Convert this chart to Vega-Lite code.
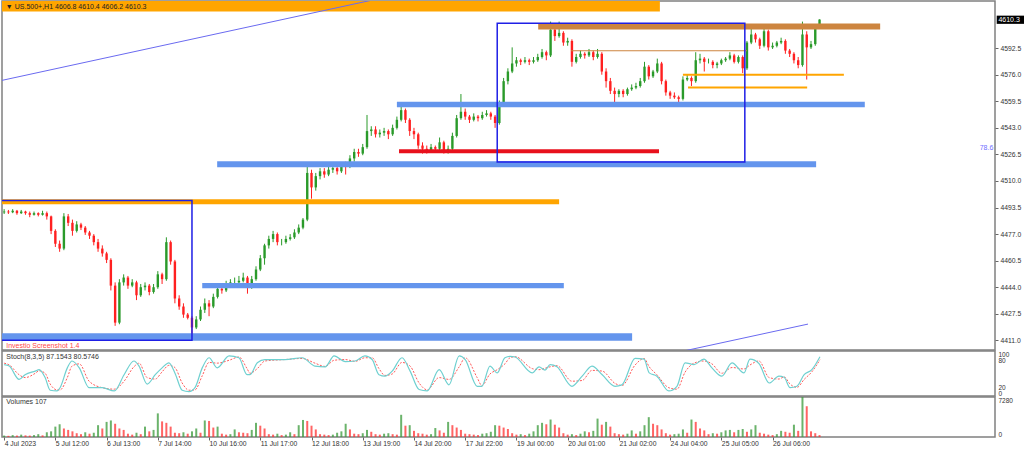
{
  "$schema": "https://vega.github.io/schema/vega-lite/v6.json",
  "padding": 0,
  "spacing": 1,
  "bounds": "flush",
  "background": "white",
  "config": {
    "font": "Liberation Sans",
    "view": {"stroke": "#808080", "strokeWidth": 1.5},
    "scale": {"continuousPadding": 0},
    "axis": {"labelFont": "Liberation Sans", "labelFontSize": 6.8, "labelColor": "#333", "tickColor": "#666", "grid": false, "domain": false, "title": null, "labelOverlap": false, "labelFlush": false}
  },
  "datasets": {
    "candles": [
      {"i":0,"o":4490.5,"h":4492.5,"l":4489.5,"c":4491,"v":260},
      {"i":1,"o":4491,"h":4492,"l":4489.5,"c":4490.5,"v":215},
      {"i":2,"o":4490.5,"h":4492.5,"l":4490,"c":4491.5,"v":345},
      {"i":3,"o":4491.5,"h":4492,"l":4489,"c":4490,"v":260},
      {"i":4,"o":4490,"h":4492,"l":4489.5,"c":4491,"v":430},
      {"i":5,"o":4491,"h":4491.5,"l":4489,"c":4490,"v":300},
      {"i":6,"o":4490,"h":4491,"l":4487.5,"c":4489,"v":260},
      {"i":7,"o":4489,"h":4491,"l":4488.5,"c":4490,"v":345},
      {"i":8,"o":4490,"h":4490.5,"l":4488,"c":4489,"v":515},
      {"i":9,"o":4489,"h":4491.5,"l":4488.5,"c":4490,"v":300},
      {"i":10,"o":4490,"h":4491,"l":4486,"c":4488,"v":860},
      {"i":11,"o":4488,"h":4488.5,"l":4477,"c":4479,"v":1030},
      {"i":12,"o":4479,"h":4480,"l":4469,"c":4471,"v":1890},
      {"i":13,"o":4471,"h":4473,"l":4466,"c":4468,"v":2320},
      {"i":14,"o":4468,"h":4490,"l":4467,"c":4488,"v":1550},
      {"i":15,"o":4488,"h":4489.5,"l":4482,"c":4484,"v":1290},
      {"i":16,"o":4484,"h":4486,"l":4476,"c":4479,"v":1030},
      {"i":17,"o":4479,"h":4485,"l":4478,"c":4483,"v":690},
      {"i":18,"o":4483,"h":4484,"l":4479.5,"c":4481,"v":515},
      {"i":19,"o":4481,"h":4482,"l":4476.5,"c":4478,"v":860},
      {"i":20,"o":4478,"h":4479,"l":4474,"c":4476,"v":600},
      {"i":21,"o":4476,"h":4477,"l":4470,"c":4472,"v":775},
      {"i":22,"o":4472,"h":4474,"l":4466,"c":4468,"v":2150},
      {"i":23,"o":4468,"h":4470,"l":4463,"c":4465,"v":1550},
      {"i":24,"o":4465,"h":4466,"l":4459,"c":4461,"v":2750},
      {"i":25,"o":4461,"h":4462,"l":4442,"c":4445,"v":3010},
      {"i":26,"o":4445,"h":4447,"l":4420,"c":4422,"v":2410},
      {"i":27,"o":4422,"h":4449,"l":4421,"c":4447,"v":1550},
      {"i":28,"o":4447,"h":4452,"l":4445,"c":4450,"v":1290},
      {"i":29,"o":4450,"h":4451,"l":4443,"c":4445,"v":600},
      {"i":30,"o":4445,"h":4449,"l":4444,"c":4447,"v":430},
      {"i":31,"o":4447,"h":4448,"l":4436,"c":4439,"v":775},
      {"i":32,"o":4439,"h":4446,"l":4438,"c":4444,"v":515},
      {"i":33,"o":4444,"h":4447,"l":4442,"c":4445,"v":1890},
      {"i":34,"o":4445,"h":4446,"l":4439,"c":4441,"v":1030},
      {"i":35,"o":4441,"h":4446,"l":4440,"c":4444,"v":1290},
      {"i":36,"o":4444,"h":4454,"l":4443,"c":4452,"v":4300},
      {"i":37,"o":4452,"h":4453,"l":4446,"c":4449,"v":2840},
      {"i":38,"o":4449,"h":4475,"l":4448,"c":4472,"v":2580},
      {"i":39,"o":4472,"h":4473,"l":4458,"c":4460,"v":1890},
      {"i":40,"o":4460,"h":4461,"l":4434,"c":4437,"v":775},
      {"i":41,"o":4437,"h":4439,"l":4430,"c":4432,"v":690},
      {"i":42,"o":4432,"h":4434,"l":4425,"c":4427,"v":860},
      {"i":43,"o":4427,"h":4428,"l":4424,"c":4425,"v":600},
      {"i":44,"o":4425,"h":4426,"l":4414,"c":4419,"v":1030},
      {"i":45,"o":4419,"h":4426,"l":4418,"c":4424,"v":1550},
      {"i":46,"o":4424,"h":4432,"l":4423,"c":4430,"v":775},
      {"i":47,"o":4430,"h":4437,"l":4428,"c":4434,"v":3010},
      {"i":48,"o":4434,"h":4436,"l":4426,"c":4432,"v":2920},
      {"i":49,"o":4432,"h":4440,"l":4431,"c":4438,"v":1720},
      {"i":50,"o":4438,"h":4445,"l":4437,"c":4443,"v":1890},
      {"i":51,"o":4443,"h":4445,"l":4440,"c":4442,"v":600},
      {"i":52,"o":4442,"h":4448,"l":4441,"c":4446,"v":430},
      {"i":53,"o":4446,"h":4449,"l":4444,"c":4447,"v":515},
      {"i":54,"o":4447,"h":4450,"l":4445,"c":4447,"v":1380},
      {"i":55,"o":4447,"h":4451,"l":4446,"c":4448,"v":860},
      {"i":56,"o":4448,"h":4453,"l":4447,"c":4450,"v":775},
      {"i":57,"o":4450,"h":4451,"l":4440,"c":4444,"v":690},
      {"i":58,"o":4444,"h":4451,"l":4443,"c":4449,"v":1290},
      {"i":59,"o":4449,"h":4457,"l":4448,"c":4455,"v":2580},
      {"i":60,"o":4455,"h":4464,"l":4454,"c":4462,"v":2060},
      {"i":61,"o":4462,"h":4471,"l":4458,"c":4470,"v":1550},
      {"i":62,"o":4470,"h":4476,"l":4468,"c":4474,"v":515},
      {"i":63,"o":4474,"h":4479,"l":4472,"c":4477,"v":430},
      {"i":64,"o":4477,"h":4478,"l":4470,"c":4472,"v":600},
      {"i":65,"o":4472,"h":4474,"l":4470,"c":4472,"v":345},
      {"i":66,"o":4472,"h":4476,"l":4471,"c":4474,"v":430},
      {"i":67,"o":4474,"h":4477,"l":4473,"c":4475,"v":860},
      {"i":68,"o":4475,"h":4480,"l":4474,"c":4478,"v":515},
      {"i":69,"o":4478,"h":4483,"l":4477,"c":4481,"v":2150},
      {"i":70,"o":4481,"h":4487,"l":4480,"c":4486,"v":3100},
      {"i":71,"o":4486,"h":4520,"l":4485,"c":4515,"v":2920},
      {"i":72,"o":4515,"h":4517,"l":4499,"c":4506,"v":2060},
      {"i":73,"o":4506,"h":4515,"l":4504,"c":4513,"v":1380},
      {"i":74,"o":4513,"h":4518,"l":4511,"c":4516,"v":515},
      {"i":75,"o":4516,"h":4518,"l":4512,"c":4514,"v":430},
      {"i":76,"o":4514,"h":4519,"l":4513,"c":4517,"v":345},
      {"i":77,"o":4517,"h":4520,"l":4515,"c":4518,"v":430},
      {"i":78,"o":4518,"h":4519,"l":4514,"c":4516,"v":775},
      {"i":79,"o":4516,"h":4521,"l":4515,"c":4520,"v":1030},
      {"i":80,"o":4520,"h":4522,"l":4514,"c":4519,"v":2410},
      {"i":81,"o":4519,"h":4526,"l":4518,"c":4524,"v":1380},
      {"i":82,"o":4524,"h":4530,"l":4522,"c":4528,"v":600},
      {"i":83,"o":4528,"h":4530,"l":4525,"c":4527,"v":515},
      {"i":84,"o":4527,"h":4533,"l":4526,"c":4531,"v":690},
      {"i":85,"o":4531,"h":4551,"l":4530,"c":4541,"v":1290},
      {"i":86,"o":4541,"h":4544,"l":4538,"c":4542,"v":950},
      {"i":87,"o":4542,"h":4544,"l":4537,"c":4539,"v":515},
      {"i":88,"o":4539,"h":4542,"l":4537,"c":4540,"v":430},
      {"i":89,"o":4540,"h":4543,"l":4538,"c":4541,"v":600},
      {"i":90,"o":4541,"h":4542,"l":4536,"c":4539,"v":690},
      {"i":91,"o":4539,"h":4545,"l":4538,"c":4543,"v":515},
      {"i":92,"o":4543,"h":4550,"l":4542,"c":4548,"v":430},
      {"i":93,"o":4548,"h":4557,"l":4547,"c":4554,"v":4040},
      {"i":94,"o":4554,"h":4555,"l":4546,"c":4548,"v":2060},
      {"i":95,"o":4548,"h":4549,"l":4538,"c":4541,"v":2150},
      {"i":96,"o":4541,"h":4543,"l":4536,"c":4539,"v":1120},
      {"i":97,"o":4539,"h":4540,"l":4530,"c":4532,"v":690},
      {"i":98,"o":4532,"h":4534,"l":4527,"c":4530,"v":600},
      {"i":99,"o":4530,"h":4532,"l":4527,"c":4529,"v":430},
      {"i":100,"o":4529,"h":4533,"l":4528,"c":4531,"v":515},
      {"i":101,"o":4531,"h":4532,"l":4528,"c":4530,"v":1630},
      {"i":102,"o":4530,"h":4537,"l":4529,"c":4534,"v":1200},
      {"i":103,"o":4534,"h":4535,"l":4527,"c":4529,"v":775},
      {"i":104,"o":4529,"h":4532,"l":4527,"c":4530,"v":2750},
      {"i":105,"o":4530,"h":4540,"l":4529,"c":4538,"v":2150},
      {"i":106,"o":4538,"h":4551,"l":4537,"c":4549,"v":1720},
      {"i":107,"o":4549,"h":4564,"l":4548,"c":4553,"v":1290},
      {"i":108,"o":4553,"h":4555,"l":4548,"c":4550,"v":600},
      {"i":109,"o":4550,"h":4551,"l":4546,"c":4548,"v":515},
      {"i":110,"o":4548,"h":4552,"l":4547,"c":4550,"v":430},
      {"i":111,"o":4550,"h":4551,"l":4547,"c":4549,"v":345},
      {"i":112,"o":4549,"h":4553,"l":4548,"c":4551,"v":600},
      {"i":113,"o":4551,"h":4554,"l":4550,"c":4552,"v":690},
      {"i":114,"o":4552,"h":4553,"l":4548,"c":4550,"v":950},
      {"i":115,"o":4550,"h":4551,"l":4543,"c":4546,"v":2150},
      {"i":116,"o":4546,"h":4560,"l":4545,"c":4558,"v":2060},
      {"i":117,"o":4558,"h":4574,"l":4557,"c":4572,"v":1720},
      {"i":118,"o":4572,"h":4580,"l":4570,"c":4578,"v":1460},
      {"i":119,"o":4578,"h":4593,"l":4577,"c":4583,"v":690},
      {"i":120,"o":4583,"h":4587,"l":4581,"c":4585,"v":430},
      {"i":121,"o":4585,"h":4586,"l":4582,"c":4584,"v":515},
      {"i":122,"o":4584,"h":4587,"l":4583,"c":4585,"v":345},
      {"i":123,"o":4585,"h":4586,"l":4582,"c":4584,"v":600},
      {"i":124,"o":4584,"h":4587,"l":4583,"c":4585,"v":1030},
      {"i":125,"o":4585,"h":4589,"l":4584,"c":4587,"v":2150},
      {"i":126,"o":4587,"h":4592,"l":4586,"c":4590,"v":2580},
      {"i":127,"o":4590,"h":4591,"l":4585,"c":4588,"v":2320},
      {"i":128,"o":4588,"h":4609,"l":4587,"c":4604,"v":3180},
      {"i":129,"o":4604,"h":4606,"l":4597,"c":4600,"v":2240},
      {"i":130,"o":4600,"h":4609,"l":4599,"c":4602,"v":1720},
      {"i":131,"o":4602,"h":4603,"l":4594,"c":4596,"v":690},
      {"i":132,"o":4596,"h":4599,"l":4594,"c":4597,"v":430},
      {"i":133,"o":4597,"h":4598,"l":4581,"c":4584,"v":515},
      {"i":134,"o":4584,"h":4589,"l":4583,"c":4587,"v":345},
      {"i":135,"o":4587,"h":4591,"l":4586,"c":4589,"v":600},
      {"i":136,"o":4589,"h":4590,"l":4586,"c":4588,"v":1030},
      {"i":137,"o":4588,"h":4592,"l":4587,"c":4590,"v":860},
      {"i":138,"o":4590,"h":4591,"l":4585,"c":4587,"v":1120},
      {"i":139,"o":4587,"h":4592,"l":4586,"c":4589,"v":3350},
      {"i":140,"o":4589,"h":4590,"l":4576,"c":4578,"v":2240},
      {"i":141,"o":4578,"h":4580,"l":4568,"c":4572,"v":2750},
      {"i":142,"o":4572,"h":4574,"l":4564,"c":4566,"v":1890},
      {"i":143,"o":4566,"h":4568,"l":4556,"c":4564,"v":690},
      {"i":144,"o":4564,"h":4567,"l":4562,"c":4566,"v":515},
      {"i":145,"o":4566,"h":4567,"l":4562,"c":4564,"v":430},
      {"i":146,"o":4564,"h":4568,"l":4563,"c":4567,"v":600},
      {"i":147,"o":4567,"h":4570,"l":4566,"c":4568,"v":1200},
      {"i":148,"o":4568,"h":4571,"l":4567,"c":4569,"v":600},
      {"i":149,"o":4569,"h":4574,"l":4568,"c":4572,"v":1030},
      {"i":150,"o":4572,"h":4584,"l":4571,"c":4581,"v":2150},
      {"i":151,"o":4581,"h":4582,"l":4573,"c":4575,"v":3610},
      {"i":152,"o":4575,"h":4579,"l":4574,"c":4578,"v":2410},
      {"i":153,"o":4578,"h":4586,"l":4577,"c":4583,"v":2150},
      {"i":154,"o":4583,"h":4584,"l":4570,"c":4572,"v":1380},
      {"i":155,"o":4572,"h":4573,"l":4563,"c":4565,"v":690},
      {"i":156,"o":4565,"h":4566,"l":4561,"c":4563,"v":430},
      {"i":157,"o":4563,"h":4565,"l":4561,"c":4562,"v":515},
      {"i":158,"o":4562,"h":4563,"l":4559,"c":4561,"v":600},
      {"i":159,"o":4561,"h":4575,"l":4560,"c":4573,"v":1380},
      {"i":160,"o":4573,"h":4576,"l":4572,"c":4574,"v":775},
      {"i":161,"o":4574,"h":4575,"l":4569,"c":4572,"v":3180},
      {"i":162,"o":4572,"h":4590,"l":4571,"c":4585,"v":2750},
      {"i":163,"o":4585,"h":4589,"l":4583,"c":4586,"v":1550},
      {"i":164,"o":4586,"h":4587,"l":4578,"c":4584,"v":1200},
      {"i":165,"o":4584,"h":4586,"l":4583,"c":4584,"v":515},
      {"i":166,"o":4584,"h":4585,"l":4580,"c":4582,"v":690},
      {"i":167,"o":4582,"h":4584,"l":4580,"c":4583,"v":600},
      {"i":168,"o":4583,"h":4586,"l":4582,"c":4585,"v":860},
      {"i":169,"o":4585,"h":4587,"l":4584,"c":4586,"v":1200},
      {"i":170,"o":4586,"h":4590,"l":4585,"c":4588,"v":1290},
      {"i":171,"o":4588,"h":4589,"l":4583,"c":4584,"v":860},
      {"i":172,"o":4584,"h":4588,"l":4583,"c":4587,"v":1290},
      {"i":173,"o":4587,"h":4588,"l":4577,"c":4580,"v":1460},
      {"i":174,"o":4580,"h":4597,"l":4579,"c":4596,"v":950},
      {"i":175,"o":4596,"h":4607,"l":4595,"c":4601,"v":1380},
      {"i":176,"o":4601,"h":4602,"l":4596,"c":4598,"v":2150},
      {"i":177,"o":4598,"h":4599,"l":4592,"c":4594,"v":775},
      {"i":178,"o":4594,"h":4606,"l":4593,"c":4603,"v":600},
      {"i":179,"o":4603,"h":4604,"l":4591,"c":4593,"v":430},
      {"i":180,"o":4593,"h":4596,"l":4592,"c":4594,"v":345},
      {"i":181,"o":4594,"h":4597,"l":4593,"c":4596,"v":515},
      {"i":182,"o":4596,"h":4599,"l":4595,"c":4597,"v":1120},
      {"i":183,"o":4597,"h":4598,"l":4589,"c":4591,"v":950},
      {"i":184,"o":4591,"h":4592,"l":4587,"c":4589,"v":775},
      {"i":185,"o":4589,"h":4590,"l":4583,"c":4585,"v":2240},
      {"i":186,"o":4585,"h":4587,"l":4580,"c":4582,"v":1120},
      {"i":187,"o":4582,"h":4609,"l":4581,"c":4601,"v":7280},
      {"i":188,"o":4601,"h":4603,"l":4573,"c":4593,"v":5600},
      {"i":189,"o":4593,"h":4597,"l":4592,"c":4595,"v":1030},
      {"i":190,"o":4595,"h":4607.5,"l":4594,"c":4606.8,"v":690},
      {"i":191,"o":4606.8,"h":4610.4,"l":4606.2,"c":4610.3,"v":345}
    ],
    "stoch": [
      {"i":0,"k":69.8,"d":73.0},{"i":1.2,"k":66.5,"d":68.9},{"i":3.5,"k":36.9,"d":47.3},{"i":4.9,"k":47.3,"d":40.9},
      {"i":7.3,"k":55.3,"d":50.5},{"i":8.2,"k":58.5,"d":56.1},{"i":9.6,"k":40.9,"d":50.5},{"i":10.8,"k":12.8,"d":26.4},
      {"i":12.4,"k":11.2,"d":13.6},{"i":13.1,"k":18.4,"d":13.6},{"i":14.8,"k":62.5,"d":40.9},{"i":15.9,"k":77.8,"d":66.5},
      {"i":17.6,"k":62.5,"d":71.4},{"i":19.9,"k":18.4,"d":32.9},{"i":23,"k":18.4,"d":18.4},{"i":25.8,"k":11.2,"d":15.2},
      {"i":28.1,"k":47.3,"d":32.9},{"i":30.4,"k":77.8,"d":64.9},{"i":31.6,"k":66.5,"d":73.0},{"i":33.5,"k":26.4,"d":40.9},
      {"i":35.4,"k":47.3,"d":37.7},{"i":37,"k":62.5,"d":53.7},{"i":38.6,"k":73.8,"d":68.1},{"i":40,"k":51.3,"d":63.3},
      {"i":41.7,"k":12.8,"d":28.9},{"i":43.3,"k":9.6,"d":12.8},{"i":44.7,"k":18.4,"d":13.6},{"i":46.4,"k":62.5,"d":44.9},
      {"i":48,"k":85.0,"d":74.6},{"i":49.9,"k":62.5,"d":73.0},{"i":52.7,"k":89.0,"d":79.4},{"i":55,"k":85.0,"d":86.6},
      {"i":56.9,"k":47.3,"d":60.9},{"i":57.6,"k":47.3,"d":50.5},{"i":59.3,"k":73.8,"d":60.9},{"i":61.1,"k":81.0,"d":77.8},
      {"i":65.8,"k":81.0,"d":81.0},{"i":69.8,"k":85.0,"d":83.4},{"i":72.8,"k":66.5,"d":73.0},{"i":75.2,"k":64.9,"d":65.7},
      {"i":77.3,"k":89.0,"d":79.4},{"i":79.9,"k":76.2,"d":81.0},{"i":82.2,"k":77.8,"d":77.0},{"i":84.5,"k":89.0,"d":85.0},
      {"i":86.2,"k":81.0,"d":85.0},{"i":87.8,"k":47.3,"d":60.9},{"i":89.2,"k":44.1,"d":45.7},{"i":90.9,"k":55.3,"d":48.9},
      {"i":93.2,"k":85.0,"d":74.6},{"i":95.1,"k":55.3,"d":66.5},{"i":97.2,"k":14.4,"d":28.9},{"i":99.1,"k":11.2,"d":13.6},
      {"i":101.9,"k":58.5,"d":40.9},{"i":104.2,"k":24.8,"d":36.9},{"i":106.6,"k":89.0,"d":64.9},{"i":108,"k":81.0,"d":85.0},
      {"i":110.8,"k":21.6,"d":40.9},{"i":111.9,"k":21.6,"d":23.2},{"i":113.8,"k":66.5,"d":48.9},{"i":115.5,"k":51.3,"d":58.5},
      {"i":117.3,"k":85.0,"d":71.4},{"i":118.5,"k":88.2,"d":85.0},{"i":119.7,"k":86.6,"d":87.4},{"i":123.7,"k":51.3,"d":60.9},
      {"i":125.3,"k":64.9,"d":58.5},{"i":126.7,"k":57.7,"d":61.7},{"i":127.9,"k":69.8,"d":64.9},{"i":129.5,"k":64.9,"d":67.3},
      {"i":133,"k":21.6,"d":32.9},{"i":135.4,"k":44.1,"d":34.5},{"i":137.7,"k":66.5,"d":56.9},{"i":140.1,"k":47.3,"d":55.3},
      {"i":143.1,"k":21.6,"d":28.0},{"i":144.7,"k":24.8,"d":23.2},{"i":147.8,"k":83.4,"d":68.9},{"i":149.9,"k":81.8,"d":83.4},
      {"i":151.1,"k":51.3,"d":64.9},{"i":152.9,"k":44.1,"d":47.3},{"i":155.7,"k":11.2,"d":18.4},{"i":157.6,"k":21.6,"d":15.2},
      {"i":159.5,"k":73.8,"d":52.9},{"i":161.6,"k":69.8,"d":73.0},{"i":163.9,"k":81.8,"d":77.8},{"i":165.8,"k":62.5,"d":71.4},
      {"i":168.1,"k":44.1,"d":50.5},{"i":170.5,"k":73.8,"d":63.3},{"i":173.3,"k":51.3,"d":60.1},{"i":174.7,"k":81.8,"d":68.9},
      {"i":176.8,"k":72.2,"d":77.8},{"i":179.2,"k":28.9,"d":40.9},{"i":181.5,"k":44.1,"d":37.7},{"i":182.7,"k":41.7,"d":42.5},
      {"i":184.1,"k":18.4,"d":26.4},{"i":185.7,"k":21.6,"d":19.2},{"i":187.4,"k":47.3,"d":36.9},{"i":189.2,"k":58.5,"d":53.7},
      {"i":191.1,"k":87.15,"d":80.57}
    ]
  },
  "vconcat": [
    {
      "width": 993,
      "height": 349,
      "resolve": {"axis": {"y": "independent"}},
      "encoding": {
        "x": {"field": "i", "type": "quantitative", "scale": {"domain": [-0.5, 232.1], "nice": false, "zero": false, "padding": 0}, "axis": null}
      },
      "layer": [
        {
          "data": {"name": "candles"},
          "mark": {"type": "rule", "strokeWidth": 1},
          "encoding": {
            "y": {"field": "l", "type": "quantitative", "scale": {"domain": [4405.0, 4621.8], "nice": false, "zero": false, "padding": 0},
              "axis": {"orient": "right", "values": [4411, 4427.5, 4444, 4460.5, 4477, 4493.5, 4510, 4526.5, 4543, 4559.5, 4576, 4592.5], "format": ".1f", "tickSize": 3, "labelPadding": 2, "labelOverlap": false}},
            "y2": {"field": "h"},
            "color": {"condition": {"test": "datum.c >= datum.o", "value": "#2a9a2a"}, "value": "#ff2020"}
          }
        },
        {
          "data": {"name": "candles"},
          "mark": {"type": "bar", "size": 2.4},
          "encoding": {
            "y": {"field": "o", "type": "quantitative", "axis": null},
            "y2": {"field": "c"},
            "color": {"condition": {"test": "datum.c >= datum.o", "value": "#2a9a2a"}, "value": "#ff2020"}
          }
        },
        {
          "data": {"values": [
            {"x1": -0.5, "x2": 153.6, "lo": 4615.3, "hi": 4622.5, "kind": "resistance"},
            {"x1": -0.5, "x2": 130.0, "lo": 4495.6, "hi": 4498.6, "kind": "resistance"},
            {"x1": 159.0, "x2": 196.7, "lo": 4575.4, "hi": 4576.6, "kind": "resistance"},
            {"x1": 160.2, "x2": 188.1, "lo": 4567.5, "hi": 4568.7, "kind": "resistance"},
            {"x1": 46.4, "x2": 131.1, "lo": 4443.4, "hi": 4446.6, "kind": "support"},
            {"x1": -0.5, "x2": 147.1, "lo": 4410.8, "hi": 4415.4, "kind": "support"},
            {"x1": 49.9, "x2": 190.2, "lo": 4518.6, "hi": 4522.2, "kind": "support"},
            {"x1": 92.0, "x2": 201.6, "lo": 4555.8, "hi": 4559.2, "kind": "support"},
            {"x1": 92.5, "x2": 153.4, "lo": 4527.2, "hi": 4529.7, "kind": "pivot"},
            {"x1": 125.1, "x2": 205.2, "lo": 4604.1, "hi": 4607.8, "kind": "supply"},
            {"x1": 132.8, "x2": 174.0, "lo": 4590.6, "hi": 4591.2, "kind": "supply"}
          ]},
          "mark": {"type": "rect", "clip": true},
          "encoding": {
            "x": {"field": "x1", "type": "quantitative"},
            "x2": {"field": "x2"},
            "y": {"field": "lo", "type": "quantitative", "axis": null},
            "y2": {"field": "hi"},
            "color": {"field": "kind", "type": "nominal", "legend": null,
              "scale": {"domain": ["support", "resistance", "pivot", "supply"], "range": ["#6495ED", "#FFA500", "#E8101C", "#CD853F"]}}
          }
        },
        {
          "data": {"values": [{"p": 4610.3}]},
          "mark": {"type": "rule", "color": "#c8c8c8", "strokeWidth": 1},
          "encoding": {"y": {"field": "p", "type": "quantitative", "axis": null}}
        },
        {
          "data": {"values": [{"p": 4527.8}]},
          "mark": {"type": "rule", "color": "#9a9aff", "strokeWidth": 1, "strokeDash": [2, 2]},
          "encoding": {"y": {"field": "p", "type": "quantitative", "axis": null}}
        },
        {
          "data": {"values": [
            {"x1": -1, "x2": 44.0, "lo": 4411.0, "hi": 4497.8},
            {"x1": 115.5, "x2": 173.5, "lo": 4521.8, "hi": 4608.0}
          ]},
          "mark": {"type": "rect", "fill": null, "fillOpacity": 0, "stroke": "#1f1fe6", "strokeWidth": 1.5, "clip": true},
          "encoding": {
            "x": {"field": "x1", "type": "quantitative"},
            "x2": {"field": "x2"},
            "y": {"field": "lo", "type": "quantitative", "axis": null},
            "y2": {"field": "hi"}
          }
        },
        {
          "data": {"values": [
            {"line": "upper", "i": -0.5, "p": 4572.5},
            {"line": "upper", "i": 100, "p": 4630.3},
            {"line": "lower", "i": 158.0, "p": 4403.7},
            {"line": "lower", "i": 188.3, "p": 4421.1}
          ]},
          "mark": {"type": "line", "color": "#6a6af0", "strokeWidth": 1, "clip": true},
          "encoding": {
            "y": {"field": "p", "type": "quantitative", "axis": null},
            "detail": {"field": "line", "type": "nominal"}
          }
        },
        {
          "data": {"values": [{"i": 0.4, "p": 4617.9, "t": "▼ US.500+,H1  4606.8 4610.4 4606.2 4610.3"}]},
          "mark": {"type": "text", "align": "left", "baseline": "middle", "fontSize": 7, "color": "#222"},
          "encoding": {"y": {"field": "p", "type": "quantitative", "axis": null}, "text": {"field": "t"}}
        },
        {
          "data": {"values": [{"i": 0.5, "p": 4407.6, "t": "Investio Screenshot 1.4"}]},
          "mark": {"type": "text", "align": "left", "baseline": "middle", "fontSize": 7, "color": "#ff4848"},
          "encoding": {"y": {"field": "p", "type": "quantitative", "axis": null}, "text": {"field": "t"}}
        },
        {
          "data": {"values": [{"i": 231.7, "p": 4530.2, "t": "78.6"}]},
          "mark": {"type": "text", "align": "right", "baseline": "middle", "fontSize": 7, "color": "#6f6fff"},
          "encoding": {"y": {"field": "p", "type": "quantitative", "axis": null}, "text": {"field": "t"}}
        },
        {
          "data": {"values": [{"x1": 232.5, "x2": 239.0, "lo": 4607.6, "hi": 4612.7}]},
          "mark": {"type": "rect", "color": "#000"},
          "encoding": {
            "x": {"field": "x1", "type": "quantitative"},
            "x2": {"field": "x2"},
            "y": {"field": "lo", "type": "quantitative", "axis": null},
            "y2": {"field": "hi"}
          }
        },
        {
          "data": {"values": [{"i": 232.9, "p": 4610.2, "t": "4610.3"}]},
          "mark": {"type": "text", "align": "left", "baseline": "middle", "fontSize": 7, "color": "#fff"},
          "encoding": {"y": {"field": "p", "type": "quantitative", "axis": null}, "text": {"field": "t"}}
        }
      ]
    },
    {
      "width": 993,
      "height": 45,
      "resolve": {"axis": {"y": "independent"}},
      "encoding": {
        "x": {"field": "i", "type": "quantitative", "scale": {"domain": [-0.5, 232.1], "nice": false, "zero": false, "padding": 0}, "axis": null}
      },
      "layer": [
        {
          "data": {"values": [{"lvl": 80}, {"lvl": 20}]},
          "mark": {"type": "rule", "color": "#c4c4c4", "strokeWidth": 1, "strokeDash": [1, 2]},
          "encoding": {"y": {"field": "lvl", "type": "quantitative", "scale": {"domain": [0, 100], "nice": false, "zero": false},
            "axis": {"orient": "right", "values": [0, 20, 80, 100], "tickSize": 0, "labelPadding": 3, "labelFontSize": 6.5, "labelOverlap": false, "labelFlush": true}}}
        },
        {
          "data": {"name": "stoch"},
          "mark": {"type": "line", "color": "#ff5a5a", "strokeWidth": 1, "strokeDash": [2, 1.5], "interpolate": "monotone"},
          "encoding": {"y": {"field": "d", "type": "quantitative", "axis": null}}
        },
        {
          "data": {"name": "stoch"},
          "mark": {"type": "line", "color": "#6fd0d0", "strokeWidth": 1.2, "interpolate": "monotone"},
          "encoding": {"y": {"field": "k", "type": "quantitative", "axis": null}}
        },
        {
          "data": {"values": [{"i": 0.5, "s": 86.7, "t": "Stoch(8,3,5) 87.1543 80.5746"}]},
          "mark": {"type": "text", "align": "left", "baseline": "middle", "fontSize": 7, "color": "#333"},
          "encoding": {"y": {"field": "s", "type": "quantitative", "axis": null}, "text": {"field": "t"}}
        }
      ]
    },
    {
      "width": 993,
      "height": 40,
      "resolve": {"axis": {"y": "independent"}},
      "encoding": {
        "x": {"field": "i", "type": "quantitative", "scale": {"domain": [-0.5, 232.1], "nice": false, "zero": false, "padding": 0},
          "axis": {"orient": "bottom", "values": [0, 12, 24, 36, 48, 60, 72, 84, 96, 108, 120, 132, 144, 156, 168, 180],
            "labelExpr": "['4 Jul 2023','5 Jul 12:00','6 Jul 13:00','7 Jul 14:00','10 Jul 16:00','11 Jul 17:00','12 Jul 18:00','13 Jul 19:00','14 Jul 20:00','17 Jul 22:00','19 Jul 00:00','20 Jul 01:00','21 Jul 02:00','24 Jul 04:00','25 Jul 05:00','26 Jul 06:00'][round(datum.value / 12)]",
            "labelAlign": "left", "tickSize": 3, "labelPadding": 0, "labelOverlap": false}}
      },
      "layer": [
        {
          "data": {"name": "candles"},
          "transform": [{"window": [{"op": "lag", "field": "v", "as": "pv"}], "sort": [{"field": "i"}]}],
          "mark": {"type": "bar", "size": 2},
          "encoding": {
            "y": {"field": "v", "type": "quantitative", "scale": {"domain": [0, 7280], "nice": false, "zero": true},
              "axis": {"orient": "right", "values": [0, 7280], "format": "d", "tickSize": 0, "labelPadding": 3, "labelFontSize": 6.5, "labelOverlap": false, "labelFlush": true}},
            "color": {"condition": {"test": "datum.v > datum.pv", "value": "#3a9a3a"}, "value": "#ff3030"},
            "opacity": {"value": 0.75}
          }
        },
        {
          "data": {"values": [{"i": 0.5, "v": 6425, "t": "Volumes 107"}]},
          "mark": {"type": "text", "align": "left", "baseline": "middle", "fontSize": 7, "color": "#333"},
          "encoding": {"y": {"field": "v", "type": "quantitative", "axis": null}, "text": {"field": "t"}}
        }
      ]
    }
  ]
}
